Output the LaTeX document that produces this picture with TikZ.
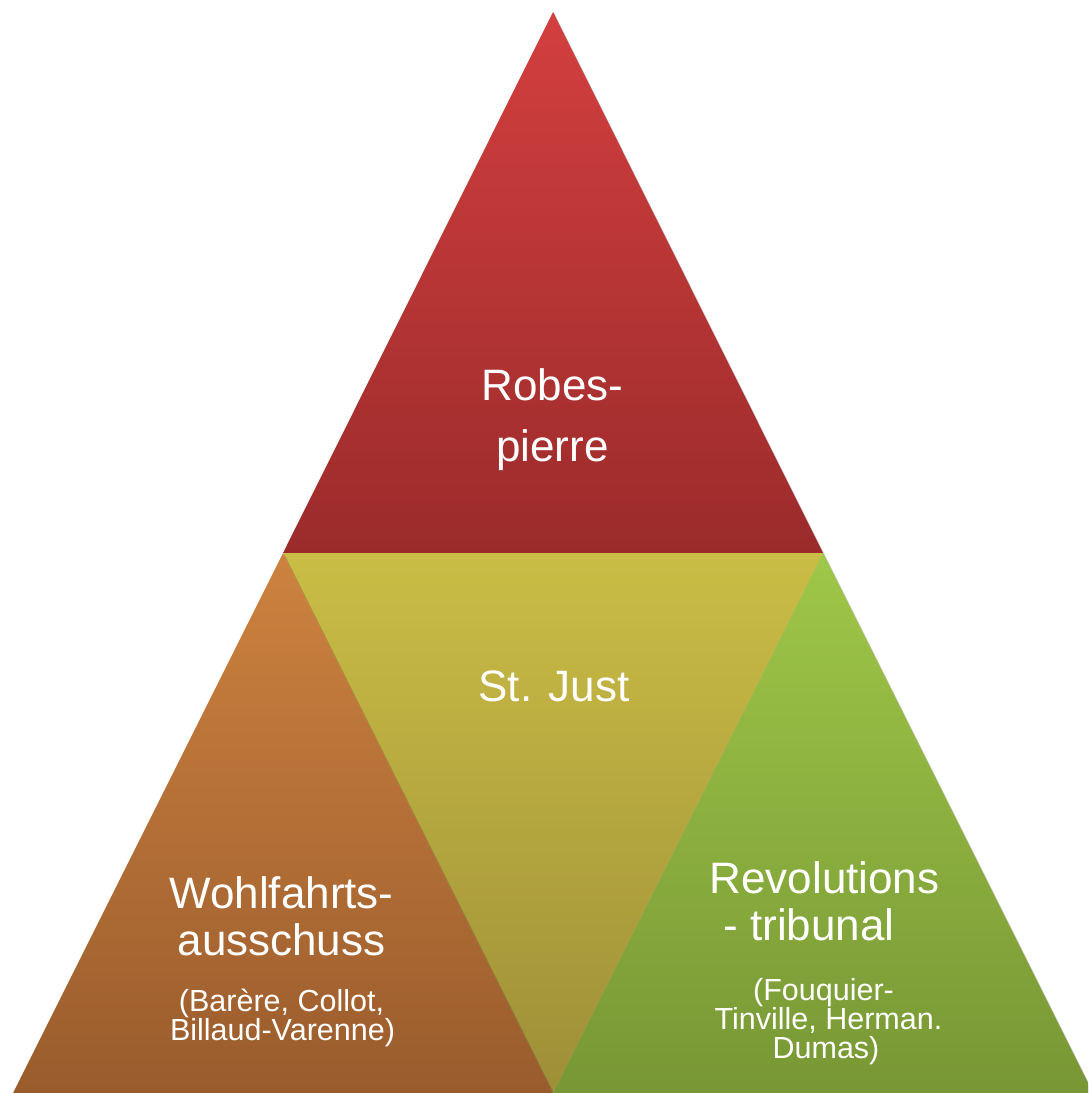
\documentclass[tikz,border=0pt]{standalone}
\usepackage{fontspec}
\setmainfont{Liberation Sans}
\usetikzlibrary{shadows}
\definecolor{topA}{HTML}{D33F3F}
\definecolor{topB}{HTML}{9B2B2B}
\definecolor{midA}{HTML}{CABD45}
\definecolor{midB}{HTML}{9E8F38}
\definecolor{leftA}{HTML}{CD823F}
\definecolor{leftB}{HTML}{9A5C2D}
\definecolor{rightA}{HTML}{9FC748}
\definecolor{rightB}{HTML}{789735}
\tikzset{
  piece/.style={drop shadow={shadow xshift=1.5pt, shadow yshift=-1.5pt, opacity=0.22, fill=black}},
  big/.style={text=white, inner sep=0pt, anchor=base, font=\fontsize{44}{50}\selectfont},
  small/.style={text=white, inner sep=0pt, anchor=base, font=\fontsize{30.5}{34}\selectfont}
}
\begin{document}
\begin{tikzpicture}[x=1pt,y=-1pt]
\useasboundingbox (0,0) rectangle (1088,1093);
\begin{scope}
\clip (0,0) rectangle (1088,1093);
\coordinate (A) at (553,12);
\coordinate (L) at (283,553);
\coordinate (R) at (823,553);
\coordinate (BL) at (13,1093);
\coordinate (BM) at (553,1093);
\coordinate (BR) at (1093,1093);
% top
\path[piece, top color=topA, bottom color=topB] (A) -- (R) -- (L) -- cycle;
% middle
\path[piece, top color=midA, bottom color=midB] (L) -- (R) -- (BM) -- cycle;
% left
\path[piece, top color=leftA, bottom color=leftB] (L) -- (BM) -- (BL) -- cycle;
% right
\path[piece, top color=rightA, bottom color=rightB] (R) -- (BR) -- (BM) -- cycle;
\end{scope}
% texts
\node[big] (robes) at (552.5,400) {Robes-};
\node[big] (pierre) at (552.5,461) {pierre};
\node[big] (just) at (554,701) {St. Just};
\node[big] (wohl) at (281.5,908) {Wohlfahrts-};
\node[big] (aus) at (281.5,955) {ausschuss};
\node[small] (bar) at (281.5,1011) {(Barère, Collot,};
\node[small] (bil) at (282.5,1040) {Billaud-Varenne)};
\node[big] (rev) at (824.5,893) {Revolutions};
\node[big] (trib) at (809,940) {- tribunal};
\node[small] (fou) at (823.5,1000) {(Fouquier-};
\node[small] (tin) at (828.5,1029) {Tinville, Herman.};
\node[small] (dum) at (826,1058) {Dumas)};
\end{tikzpicture}
\end{document}
